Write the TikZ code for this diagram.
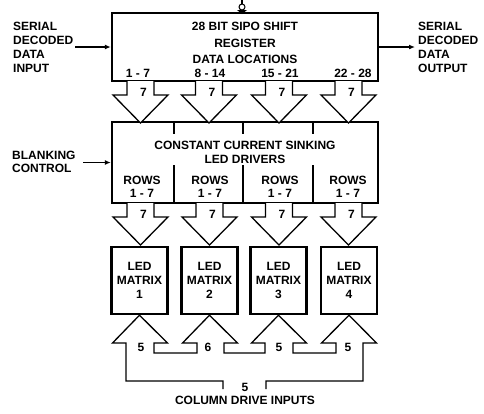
\documentclass[tikz,border=0pt]{standalone}
\usepackage{fontspec}
\setmainfont{Liberation Sans}
\usetikzlibrary{arrows.meta, positioning, calc}

\newcommand{\diagfont}{\fontsize{12}{14}\selectfont\bfseries}
\newcommand{\fatdown}[4]{%
  % fat bus arrow: centre x, top y, width label, label name
  \begin{scope}[shift={(#1,#2)}]
    \draw[fatline] (-13.5,0) -- (-13.5,14) -- (-27.5,14) -- (0,42) -- (27.5,14) -- (13.5,14) -- (13.5,0);
    \node[txt] (#4) at (3,11) {#3};
  \end{scope}
}

\begin{document}
\begin{tikzpicture}[
    x=1pt, y=-1pt,
    bigbox/.style={rectangle, draw, line width=2.4pt, inner sep=0pt},
    ledbox/.style={bigbox, minimum width=56pt, minimum height=67pt, align=center, font=\diagfont},
    txt/.style={inner sep=0pt, align=center, font=\diagfont},
    fatline/.style={draw, line width=1.3pt, line join=miter, fill=white},
    divline/.style={line width=1.2pt},
    arrow/.style={line width=1.3pt, -{Latex[length=6pt, width=5pt]}},
  ]
  \useasboundingbox (0,0) rectangle (484,413);

  % shift register
  \node[bigbox, minimum width=266pt, minimum height=68pt] (reg) at (245,47) {};
  \node[txt, font={\fontsize{12}{16.5}\selectfont\bfseries}] (regtitle) at (245,43)
    {28 BIT SIPO SHIFT\\REGISTER\\DATA LOCATIONS};
  \node[txt] (loc1) at (138,73) {1 - 7};
  \node[txt] (loc2) at (210,73) {8 - 14};
  \node[txt] (loc3) at (280,73) {15 - 21};
  \node[txt] (loc4) at (353,73) {22 - 28};
  % clock bubble
  \draw[divline] (242,0) -- (242,4);
  \draw[line width=1pt] (242,7) circle[radius=3];
  \fill (237,10) -- (242,14) -- (247,10) -- cycle;

  % serial in / out
  \node[txt, align=left, anchor=west] (sin) at (13,47) {SERIAL\\DECODED\\DATA\\INPUT};
  \node[txt, align=left, anchor=west] (sout) at (418,47) {SERIAL\\DECODED\\DATA\\OUTPUT};
  \coordinate (sinfrom) at (75,47);
  \coordinate (soutto) at (415,47);
  \draw[arrow] (sinfrom) -- (sinfrom -| reg.west);
  \draw[arrow] (reg.east) -- (soutto);

  % LED drivers
  \node[bigbox, minimum width=266pt, minimum height=81pt] (drv) at (245,162.5) {};
  \node[txt] (drvtitle) at (245,152) {CONSTANT CURRENT SINKING\\LED DRIVERS};
  \foreach \dx in {174,243,313} {
    \draw[divline] (\dx,122) -- (\dx,134);
    \draw[divline] (\dx,165) -- (\dx,203);
  }
  \foreach \x/\i in {142/1,210/2,280/3,348/4}
    \node[txt, font={\fontsize{12}{12.5}\selectfont\bfseries}] (rows\i) at (\x,187) {ROWS\\1 - 7};

  \node[txt, align=left, anchor=west, font={\fontsize{12}{12.5}\selectfont\bfseries}] (blank) at (12,162) {BLANKING\\CONTROL};
  \coordinate (blankfrom) at (83,162.5);
  \draw[arrow] (blankfrom) -- (blankfrom -| drv.west);

  % register to drivers
  \fatdown{140.5}{81}{7}{bus1}
  \fatdown{209}{81}{7}{bus2}
  \fatdown{279}{81}{7}{bus3}
  \fatdown{348.5}{81}{7}{bus4}

  % drivers to matrices
  \fatdown{140.5}{203}{7}{row1}
  \fatdown{209.5}{203}{7}{row2}
  \fatdown{279}{203}{7}{row3}
  \fatdown{348.5}{203}{7}{row4}

  % LED matrices
  \node[ledbox] (led1) at (139.5,280.5) {LED\\MATRIX\\1};
  \node[ledbox] (led2) at (209.5,280.5) {LED\\MATRIX\\2};
  \node[ledbox] (led3) at (278.5,280.5) {LED\\MATRIX\\3};
  \node[ledbox] (led4) at (349,280.5) {LED\\MATRIX\\4};

  % column drive bus
  \draw[fatline] (223,389) -- (223,381) -- (126,381) -- (126,343) -- (112.5,343)
    -- (led1.south) -- (167.5,343) -- (154,343) -- (154,353) -- (197,353) -- (197,343)
    -- (182.5,343) -- (led2.south) -- (237.5,343) -- (224,343) -- (224,353) -- (265,353)
    -- (265,343) -- (251.5,343) -- (led3.south) -- (306.5,343) -- (293,343) -- (293,353)
    -- (336,353) -- (336,343) -- (321.5,343) -- (led4.south) -- (376.5,343) -- (363,343)
    -- (363,381) -- (266,381) -- (266,389);
  \node[txt] (col1) at (141,347) {5};
  \node[txt] (col2) at (208,347) {6};
  \node[txt] (col3) at (279,347) {5};
  \node[txt] (col4) at (348,347) {5};
  \node[txt] (colin) at (245,387) {5};
  \node[txt] (coltitle) at (245,400) {COLUMN DRIVE INPUTS};

\end{tikzpicture}
\end{document}
